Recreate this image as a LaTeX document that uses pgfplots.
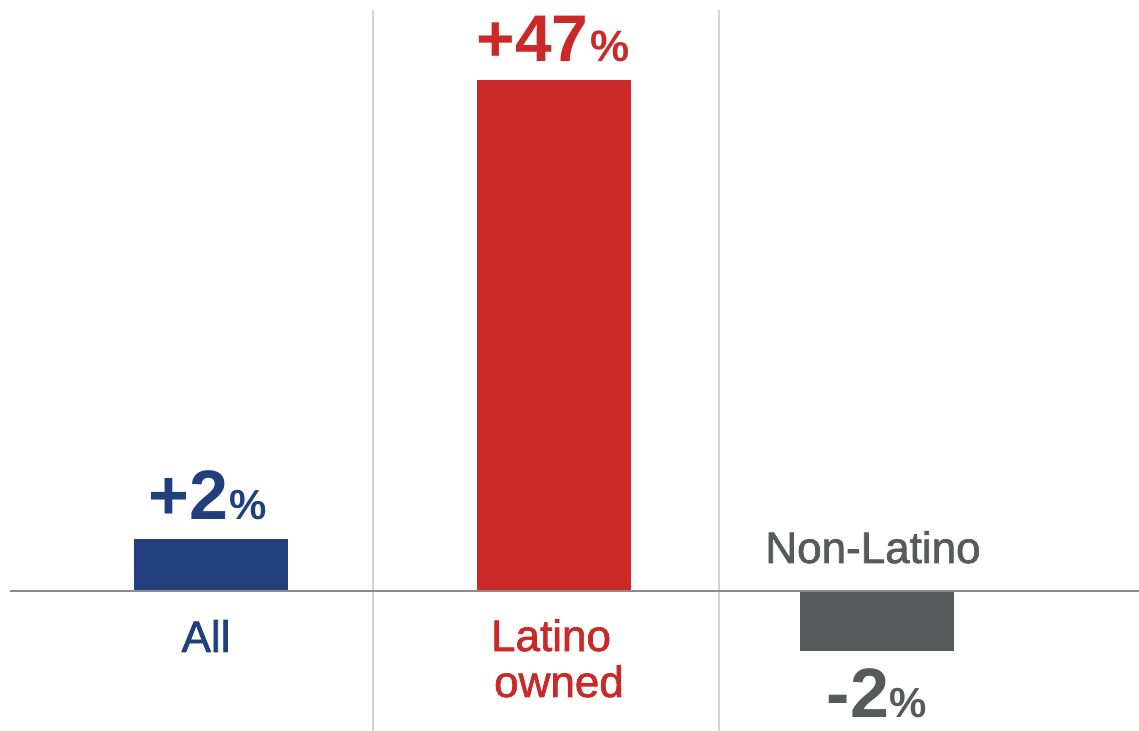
\documentclass[border=0pt]{standalone}
\usepackage{pgfplots}
\pgfplotsset{compat=1.18}
\usepackage{fontspec}
\setmainfont{Liberation Sans}
\newfontfamily\medfont[FakeBold=1.6]{Liberation Sans}
\definecolor{cblue}{HTML}{213F7C}
\definecolor{cred}{HTML}{C92A27}
\definecolor{cgray}{HTML}{58595B}
\definecolor{axgray}{HTML}{8C8C8E}
\definecolor{sepgray}{HTML}{D4D4D4}
\begin{document}
\begin{tikzpicture}[x=1pt,y=1pt]
\begin{axis}[
  at={(5pt,0pt)}, anchor=south west,
  scale only axis, width=564.5pt, height=365.5pt,
  xmin=10, xmax=1139, ymin=-12.877, ymax=54.36,
  hide axis, clip=false,
  ybar, bar width=154, bar shift=0pt,
]
\draw[sepgray, line width=1pt] (axis cs:373,53.44) -- (axis cs:373,-12.877);
\draw[sepgray, line width=1pt] (axis cs:719,53.44) -- (axis cs:719,-12.877);
\addplot[fill=cblue, draw=none] coordinates {(211,4.8)};
\addplot[fill=cred, draw=none] coordinates {(554,47)};
\addplot[fill=cgray, draw=none] coordinates {(877,-5.5)};
\draw[axgray, line width=1pt] (axis cs:10,0) -- (axis cs:1139,0);
% value labels
\node[anchor=base, text=cblue, inner sep=0pt] at (axis cs:208,6.53)
  {\fontsize{35}{35}\selectfont\bfseries +2\fontsize{21}{21}\selectfont\kern0.5pt\%};
\node[anchor=base, text=cred, inner sep=0pt] at (axis cs:553,48.66)
  {\fontsize{33}{33}\selectfont\bfseries +47\fontsize{22}{22}\selectfont\kern1pt\%};
\node[anchor=base, text=cgray, inner sep=0pt] at (axis cs:877,-11.59)
  {\fontsize{35}{35}\selectfont\bfseries -2\fontsize{21}{21}\selectfont\kern0.5pt\%};
% category labels
\node[anchor=base, text=cblue, inner sep=0pt] at (axis cs:206,-5.61)
  {\medfont\fontsize{22}{22}\selectfont All};
\node[anchor=base, text=cred, inner sep=0pt] at (axis cs:551,-5.52)
  {\medfont\fontsize{22}{22}\selectfont Latino};
\node[anchor=base, text=cred, inner sep=0pt] at (axis cs:559,-9.75)
  {\medfont\fontsize{22}{22}\selectfont owned};
\node[anchor=base, text=cgray, inner sep=0pt] at (axis cs:873,2.575)
  {\medfont\fontsize{22}{22}\selectfont Non-Latino};
\end{axis}
\pgfresetboundingbox
\path (0,0) rectangle (569.5pt,365.5pt);
\end{tikzpicture}
\end{document}
